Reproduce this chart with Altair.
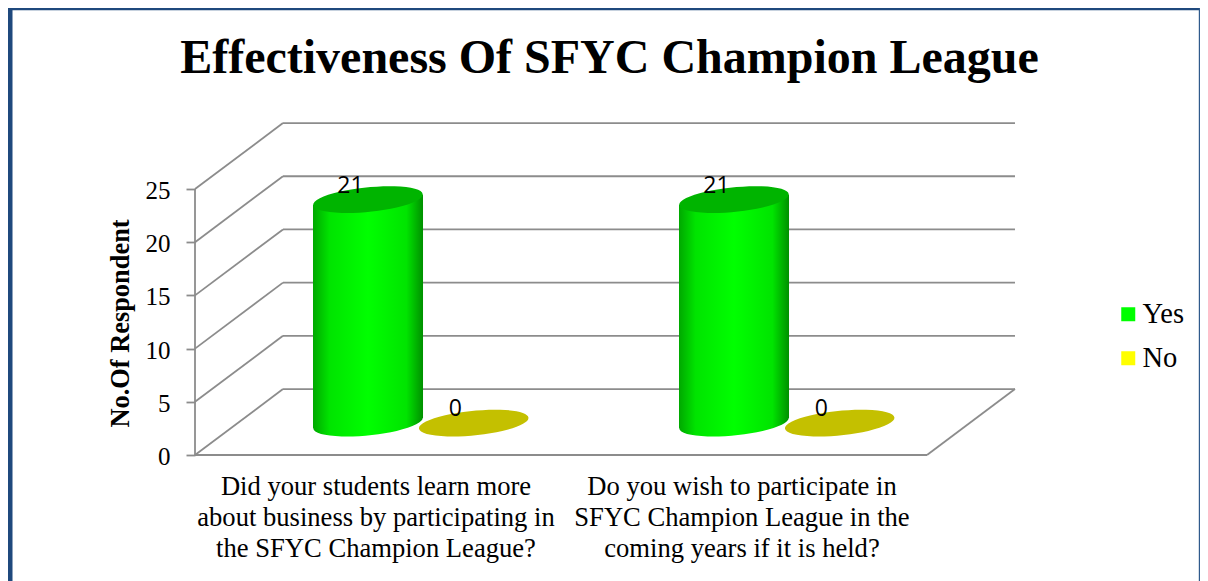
import altair as alt
import pandas as pd

# ---- values ----
questions = [
    "Did your students learn more|about business by participating in|the SFYC Champion League?",
    "Do you wish to participate in|SFYC Champion League in the|coming years if it is held?",
]
yes_values = [21, 21]
no_values = [0, 0]
series = ["Yes", "No"]
series_colors = ["#00ff00", "#ffff00"]
ticks = [0, 5, 10, 15, 20, 25]
title_text = "Effectiveness Of SFYC Champion League"
y_title = "No.Of Respondent"

SERIF = "Liberation Serif"
GRID = "#8c8c8c"
FRAME = "#1f497d"

# 3-D projection expressed in data units
DX, DY = 0.2404, 6.2       # back wall offset
BAR_DY = 3.0               # cylinder's depth in value units
YES_X, NO_X = 0.4727, 0.7615
HALF = 0.1503              # half-width of a cylinder
TILT = 0.47                # slant of an ellipse in value units
ELLIPSE = ("M-0.995,0.0995 A1,0.222,-5.7,1,1,0.995,-0.0995 "
           "A1,0.222,-5.7,1,1,-0.995,0.0995 Z")
ELLIPSE_SIZE = 12100

y_axis = alt.Axis(
    values=ticks, domain=False, grid=False, tickSize=9, tickColor=GRID, tickWidth=1.8,
    labelFont=SERIF, labelFontSize=25, labelColor="black", labelPadding=16, labelOffset=1.5,
    title=y_title, titleFont=SERIF, titleFontSize=26.4, titleFontWeight="bold",
    titleColor="black", titleX=-61, titleY=200, titleAngle=270, titlePadding=0,
)

x_scale = alt.Scale(domain=[0, 822 / 366], range=[0, 822], nice=False, zero=False)
y_scale = alt.Scale(domain=[0, 332 / 10.64], range=[332, 0], nice=False, zero=False)
X = lambda f: alt.X(f, type="quantitative", scale=x_scale, axis=None)
Y = lambda f: alt.Y(f, type="quantitative", scale=y_scale, axis=y_axis)

# walls and floor
segments = []
for t in ticks:
    segments.append(dict(x=DX, x2=DX + 2, y=t + DY, y2=t + DY))
    segments.append(dict(x=0, x2=DX, y=t, y2=t + DY))
segments.append(dict(x=0, x2=2, y=0, y2=0))
segments.append(dict(x=2, x2=2 + DX, y=0, y2=DY))
segments.append(dict(x=0, x2=0, y=0, y2=ticks[-1]))
walls = alt.Chart(pd.DataFrame(segments)).mark_rule(color=GRID, strokeWidth=1.8).encode(
    x=X("x"), x2="x2", y=Y("y"), y2="y2"
)

green = alt.Gradient(
    gradient="linear", x1=0, x2=1, y1=0, y2=0,
    stops=[
        alt.GradientStop(offset=0, color="#00a800"),
        alt.GradientStop(offset=0.15, color="#00e400"),
        alt.GradientStop(offset=0.5, color="#00ff00"),
        alt.GradientStop(offset=0.85, color="#00e400"),
        alt.GradientStop(offset=1, color="#009000"),
    ],
)

yes_centers = [i + YES_X for i in range(len(yes_values))]
no_centers = [i + NO_X for i in range(len(no_values))]

ell_base = pd.DataFrame({"x": yes_centers, "y": [BAR_DY] * len(yes_values)})
ell_top = pd.DataFrame({"x": yes_centers, "y": [v + BAR_DY for v in yes_values]})
ell_no = pd.DataFrame({"x": no_centers, "y": [v + BAR_DY for v in no_values]})

def ellipse(df, fill):
    return alt.Chart(df).mark_point(
        shape=ELLIPSE, size=ELLIPSE_SIZE, filled=True, fill=fill, opacity=1, strokeWidth=0
    ).encode(x=X("x"), y=Y("y"))

rows = []
for i, v in enumerate(yes_values):
    c = yes_centers[i]
    rows.append(dict(cat=i, x=c - HALF, y=v + BAR_DY - TILT, y2=BAR_DY - TILT))
    rows.append(dict(cat=i, x=c + HALF, y=v + BAR_DY + TILT, y2=BAR_DY + TILT))
bodies = alt.Chart(pd.DataFrame(rows)).mark_area(fill=green, opacity=1, line=False).encode(
    x=X("x"), y=Y("y"), y2="y2", detail="cat:N"
)

labels_df = pd.DataFrame({
    "x": [c - 0.048 for c in yes_centers] + [c - 0.05 for c in no_centers],
    "y": [v + 3.65 for v in yes_values] + [v + 3.65 for v in no_values],
    "text": [str(v) for v in yes_values] + [str(v) for v in no_values],
})
value_labels = alt.Chart(labels_df).mark_text(
    font="Open Sans", fontSize=23, color="black", baseline="alphabetic", align="center"
).encode(x=X("x"), y=Y("y"), text="text:N")

cat_df = pd.DataFrame({"x": [i + 0.4945 for i in range(len(questions))], "q": questions})
cat_labels = alt.Chart(cat_df).mark_text(
    font=SERIF, fontSize=26.6, color="black", baseline="alphabetic", align="center",
    lineBreak="|", lineHeight=31,
).encode(x=X("x"), y=alt.value(372), text="q:N")

legend_layer = alt.Chart(pd.DataFrame({"s": series, "x": [0, 0], "y": [0, 0]})).mark_square(
    size=0, opacity=1
).encode(
    x=X("x"), y=Y("y"),
    color=alt.Color("s:N", scale=alt.Scale(domain=series, range=series_colors), legend=alt.Legend(
        orient="none", legendX=919, legendY=177, title=None, symbolType="square", symbolSize=196,
        symbolOpacity=1, symbolStrokeWidth=0, labelFont=SERIF, labelFontSize=28.5, labelColor="black",
        labelOffset=0, rowPadding=15, values=series,
    )),
)

frame_left = alt.Chart(pd.DataFrame({"a": [0]})).mark_rule(color=FRAME, strokeWidth=4.5).encode(
    x=alt.value(-184.75), y=alt.value(-115), y2=alt.value(458))
frame_top = alt.Chart(pd.DataFrame({"a": [0]})).mark_rule(color=FRAME, strokeWidth=2.6).encode(
    x=alt.value(-187), x2=alt.value(1005), y=alt.value(-114))
frame_right = alt.Chart(pd.DataFrame({"a": [0]})).mark_rule(color="#2f5a8c", strokeWidth=1.2).encode(
    x=alt.value(1004.4), y=alt.value(-115), y2=alt.value(458))

chart = alt.layer(
    frame_left, frame_top, frame_right, walls,
    ellipse(ell_base, green), bodies, ellipse(ell_top, "#00b400"), ellipse(ell_no, "#c4c000"),
    value_labels, cat_labels, legend_layer,
).resolve_scale(color="independent").properties(
    width=822, height=332,
    padding={"left": 187, "top": 115, "right": 183, "bottom": 126},
    autosize=alt.AutoSizeParams(type="none"),
    title=alt.TitleParams(title_text, font=SERIF, fontSize=48, fontWeight="bold", color="black",
                          anchor="middle", dx=3.5, dy=115, offset=0, baseline="alphabetic"),
).configure_view(stroke=None)

chart.save("out.html", embed_options={"renderer": "svg", "actions": False})
